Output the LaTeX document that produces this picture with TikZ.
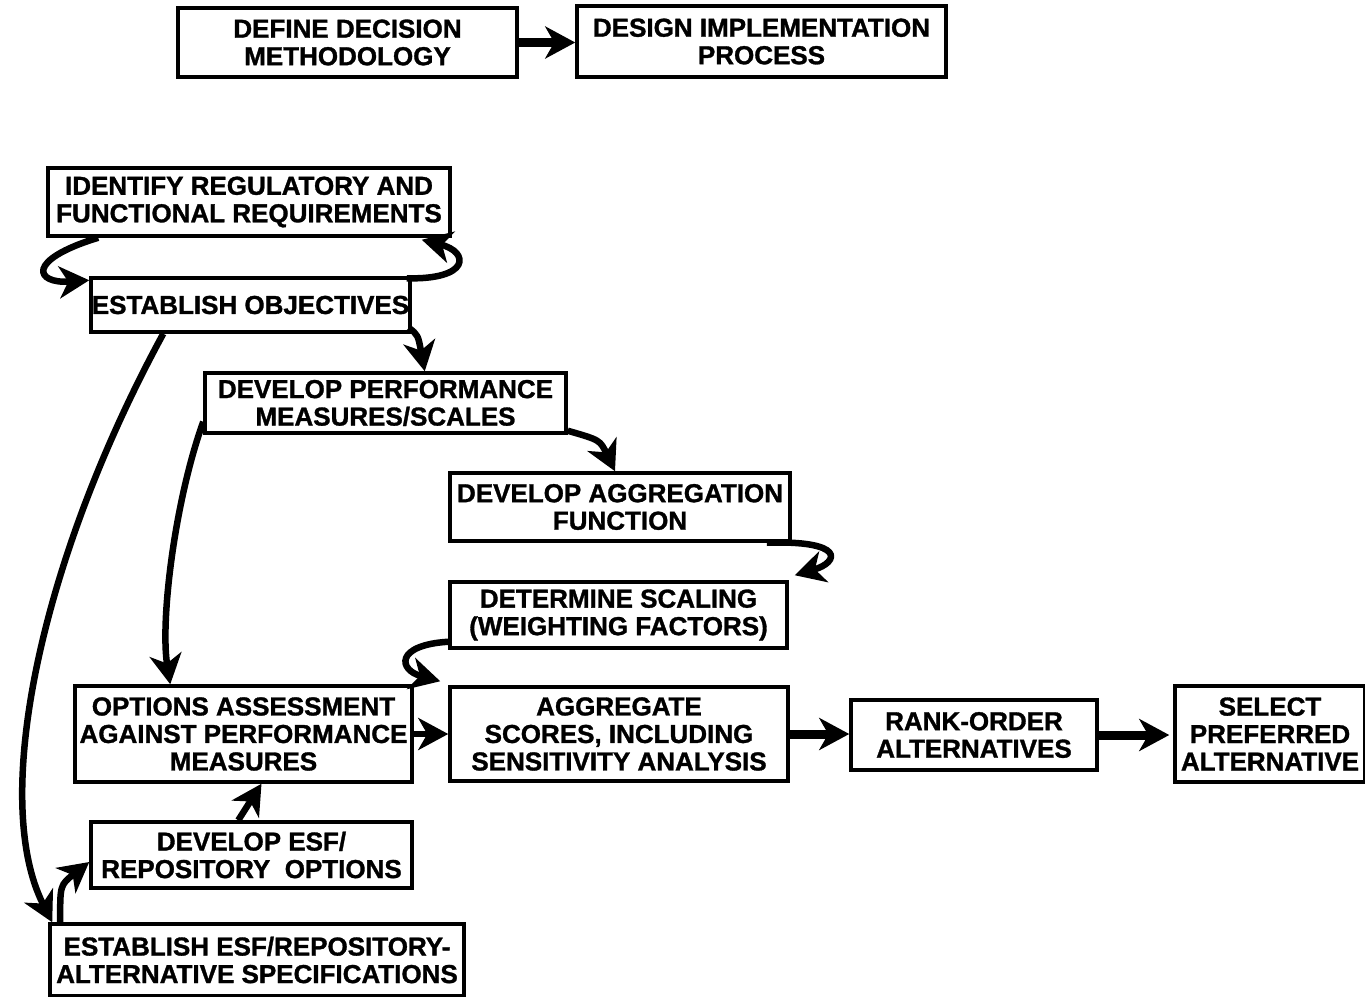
\documentclass[tikz,border=0pt]{standalone}
\usepackage{fontspec}
\setmainfont{Liberation Sans}[BoldFeatures={FakeBold=1.2}]
\usetikzlibrary{arrows.meta,calc}
\tikzset{
  box/.style={draw, line width=3.5pt, inner sep=0pt, align=center,
    font=\bfseries\fontsize{26}{27.5}\selectfont},
  conn/.style={line width=6.5pt, -{Stealth[length=30pt,width=32pt,inset=9pt]}},
  hconn/.style={line width=9pt, -{Stealth[length=30pt,width=32pt,inset=9pt]}},
}
\begin{document}
\begin{tikzpicture}[x=1pt,y=-1pt]
\useasboundingbox (0,0) rectangle (1365,996);
\node[box, minimum width=339pt, minimum height=69pt] (def) at (347.5,42.5) {DEFINE DECISION\\METHODOLOGY};
\node[box, minimum width=369pt, minimum height=71pt] (design) at (761.5,41.5) {DESIGN IMPLEMENTATION\\PROCESS};
\node[box, minimum width=402pt, minimum height=68pt] (ident) at (249,202) {IDENTIFY REGULATORY AND\\FUNCTIONAL REQUIREMENTS};
\node[box, minimum width=319pt, minimum height=54pt] (estobj) at (250.5,305) {ESTABLISH OBJECTIVES};
\node[box, minimum width=361pt, minimum height=60pt] (devperf) at (385.5,403) {DEVELOP PERFORMANCE\\MEASURES/SCALES};
\node[box, minimum width=340pt, minimum height=68pt] (aggfun) at (620,507) {DEVELOP AGGREGATION\\FUNCTION};
\node[box, minimum width=337pt, minimum height=66pt] (detscal) at (618.5,615) {DETERMINE SCALING\\(WEIGHTING FACTORS)};
\node[box, minimum width=337pt, minimum height=96pt] (options) at (243.5,734) {OPTIONS ASSESSMENT\\AGAINST PERFORMANCE\\MEASURES};
\node[box, minimum width=338pt, minimum height=94pt] (aggscore) at (619,734) {AGGREGATE\\SCORES, INCLUDING\\SENSITIVITY ANALYSIS};
\node[box, minimum width=246pt, minimum height=70pt] (rank) at (974,735) {RANK-ORDER\\ALTERNATIVES};
\node[box, minimum width=190pt, minimum height=96pt] (select) at (1270,734) {SELECT\\PREFERRED\\ALTERNATIVE};
\node[box, minimum width=321pt, minimum height=66pt] (devesf) at (251.5,855) {DEVELOP ESF/\\REPOSITORY\ \ OPTIONS};
\node[box, minimum width=414pt, minimum height=72pt] (estesf) at (257,960) {ESTABLISH ESF/REPOSITORY-\\ALTERNATIVE SPECIFICATIONS};

\draw[hconn] (def.east) -- (design.west |- def.east);
\draw[conn] ([xshift=52pt]ident.south west) .. controls (25,260) and (35,284) .. ([yshift=-4pt]estobj.north west);
\draw[conn] ([xshift=-5pt,yshift=-2pt]estobj.north east) .. controls (470,280) and (470,252) .. ([xshift=-30pt,yshift=-2pt]ident.south east);
\draw[conn] ([xshift=-3pt,yshift=6pt]estobj.south east) .. controls (418,335) .. ([xshift=-143pt]devperf.north east);
\draw[conn] ([yshift=4pt]devperf.south east) .. controls (600,440) .. ([xshift=-5pt]aggfun.north);
\draw[conn] ([xshift=-25pt]aggfun.south east) .. controls (845,540) and (840,562) .. ([xshift=6pt,yshift=5pt]detscal.north east);
\draw[conn] ([yshift=8pt]detscal.south west) .. controls (395,645) and (398,670) .. ([xshift=-8pt,yshift=4pt]aggscore.north west);
\draw[conn] ([xshift=74pt]estobj.south west) .. controls (40,560) and (-10,800) .. ([xshift=4pt]estesf.north west);
\draw[conn] ([yshift=13pt]devperf.south west) .. controls (175,500) and (160,620) .. ([xshift=97pt]options.north west);
\draw[conn] ([xshift=12pt]estesf.north west) .. controls (60,885) .. ([yshift=-7pt]devesf.west);
\draw[conn] ([xshift=149pt]devesf.north west) -- ([xshift=18pt]options.south);
\draw[conn] (options.east) -- (aggscore.west |- options.east);
\draw[hconn] (aggscore.east) -- (rank.west |- aggscore.east);
\draw[hconn] (rank.east) -- ([xshift=-4pt]select.west |- rank.east);
\end{tikzpicture}
\end{document}
